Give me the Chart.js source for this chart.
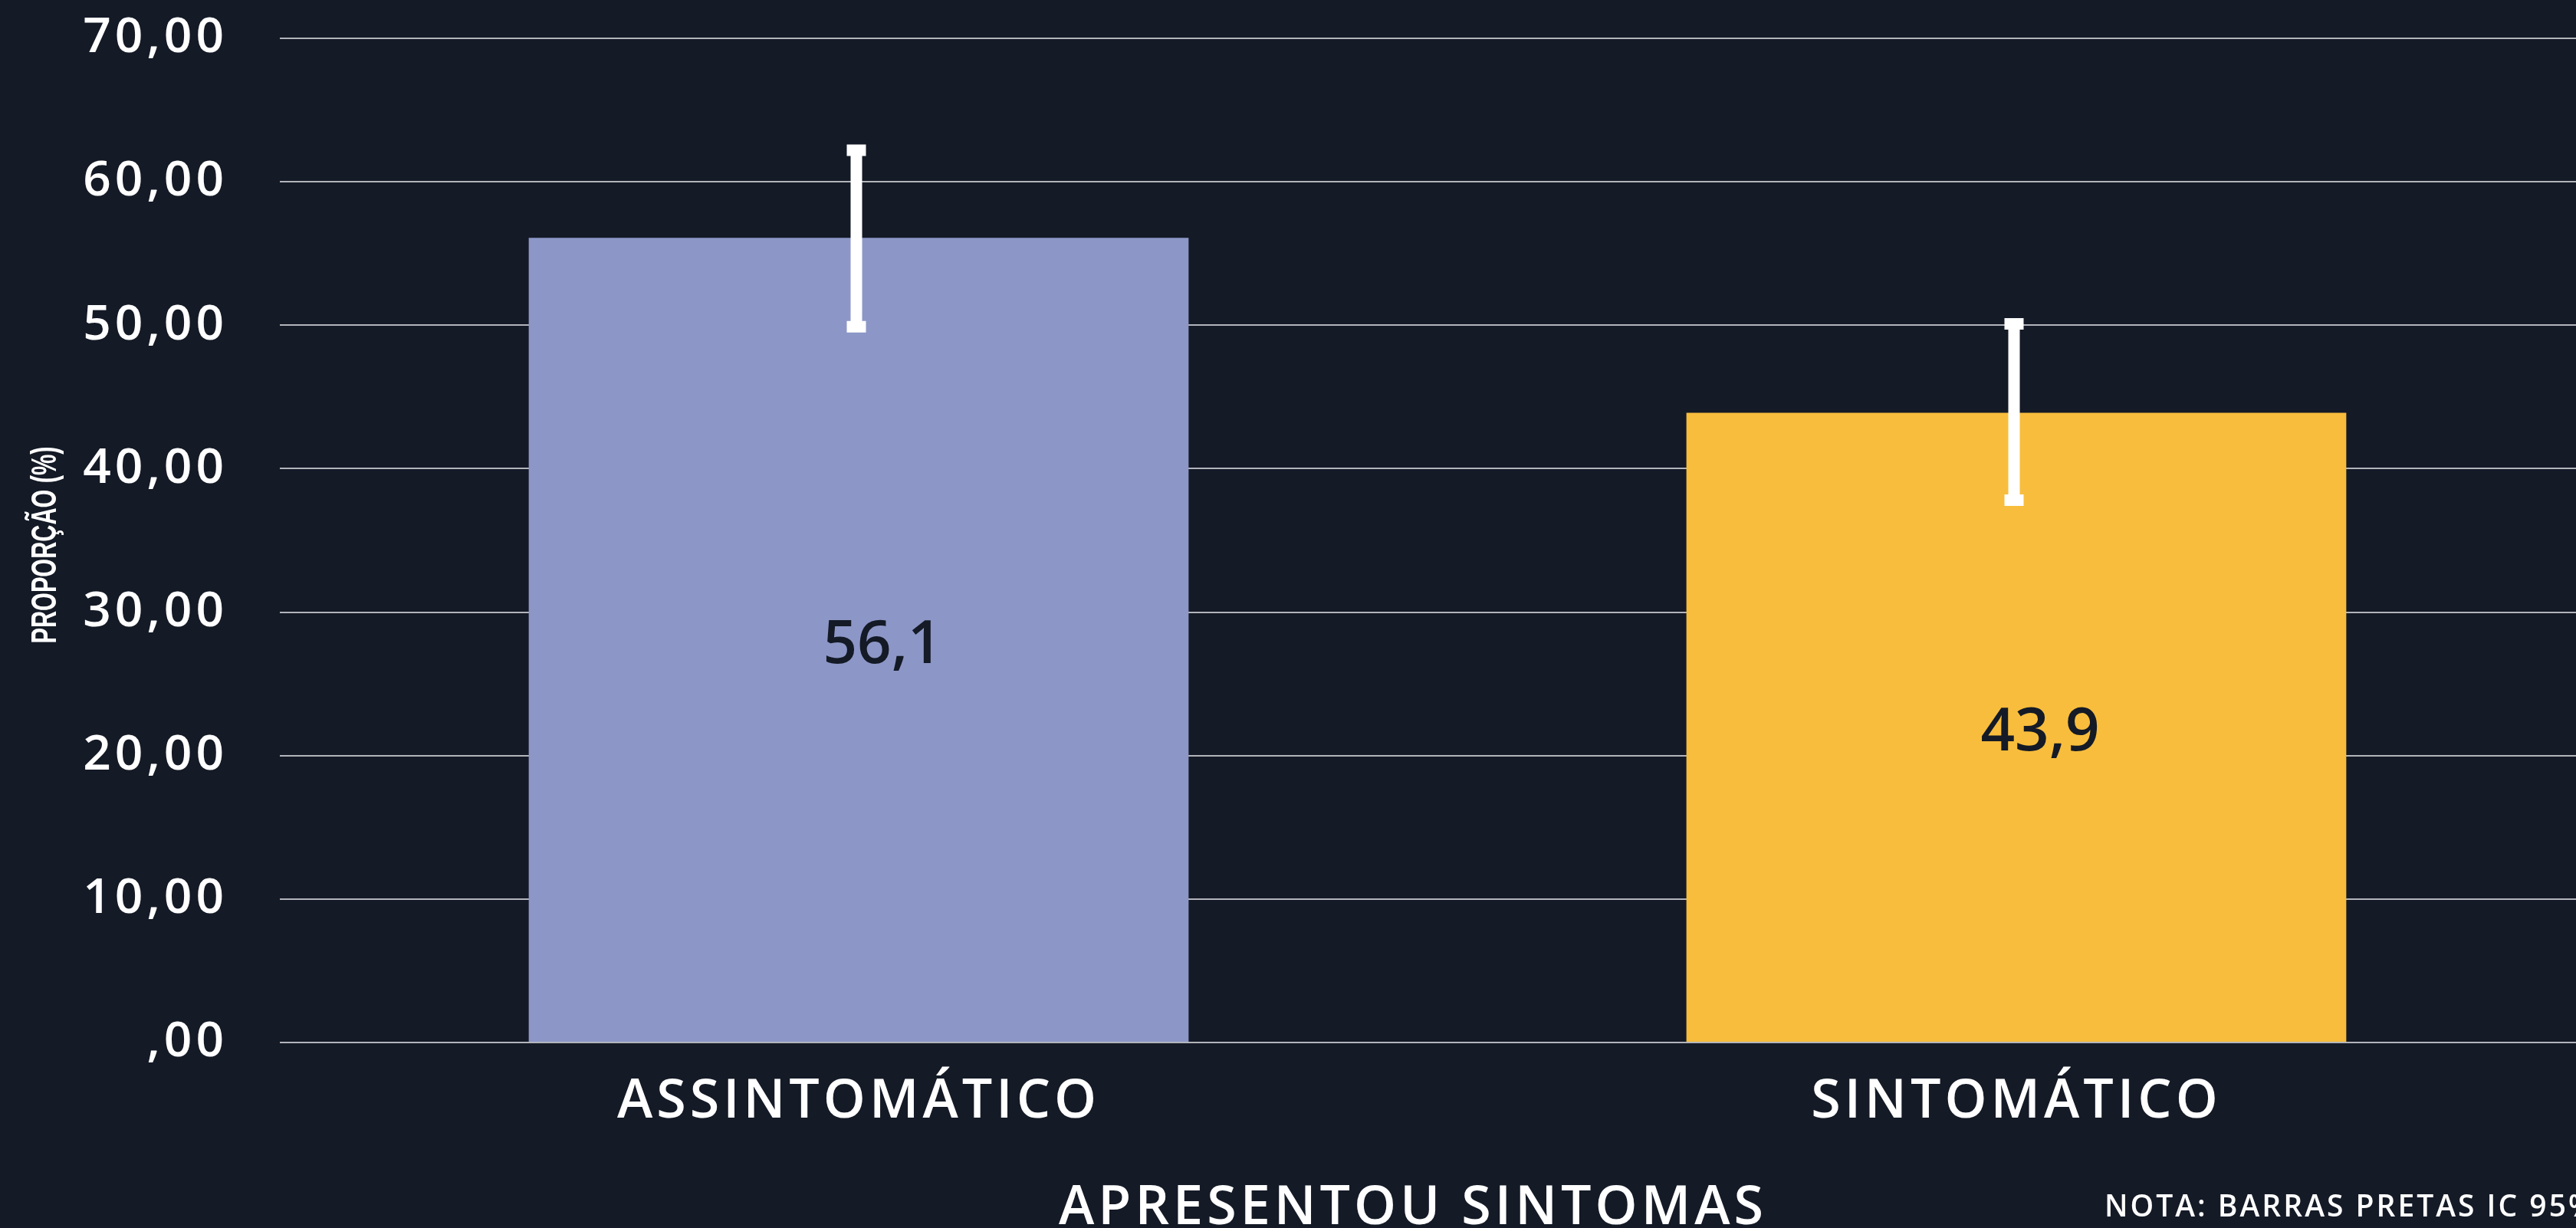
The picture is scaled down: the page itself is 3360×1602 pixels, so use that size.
<!DOCTYPE html>
<html>
<head>
<meta charset="utf-8">
<script src="https://cdn.jsdelivr.net/npm/chart.js@4.4.0/dist/chart.umd.min.js"></script>
<style>
    html, body { margin: 0; padding: 0; background: #141a26; overflow: hidden; }
    #wrap { position: relative; width: 3385px; height: 1602px; }
</style>
</head>
<body>
<div id="wrap"><canvas id="chart"></canvas></div>
<script>
// Data
let categories = ["ASSINTOMÁTICO", "SINTOMÁTICO"];
let proportions = [56.1, 43.9];
let ciLower = [49.9, 37.8];
let ciUpper = [62.2, 50.1];
let barColors = ["#8c97c7", "#f8bd3c"];

let yTitle = "PROPORÇÃO (%)";
let xTitle = "APRESENTOU SINTOMAS";
let note = "NOTA: BARRAS PRETAS IC 95%";

let mainFont = "'Open Sans', 'DejaVu Sans', sans-serif";

// wider letter spacing, the original font is a wide geometric one
let spacingPlugin = {
    id: "spacing",
    beforeInit(chart) {
        chart.ctx.letterSpacing = "5px";
    },
    beforeDraw(chart) {
        chart.ctx.letterSpacing = "5px";
    }
};

// Error bars, value labels and extra texts
let extrasPlugin = {
    id: "extras",
    afterDatasetsDraw(chart) {
        let ctx = chart.ctx;
        let meta = chart.getDatasetMeta(0);
        let y = chart.scales.y;
        ctx.save();

        // value labels in the middle of each bar
        ctx.letterSpacing = "0px";
        ctx.fillStyle = "#141a26";
        ctx.font = "600 78px " + mainFont;
        ctx.textAlign = "center";
        ctx.textBaseline = "middle";
        meta.data.forEach((bar, i) => {
            let midY = (bar.y + bar.base) / 2;
            ctx.fillText(proportions[i].toFixed(1).replace(".", ","), bar.x + 31, midY + 8);
        });

        // confidence intervals
        ctx.strokeStyle = "#ffffff";
        ctx.lineCap = "butt";
        meta.data.forEach((bar, i) => {
            let x = bar.x - 3;
            let top = y.getPixelForValue(ciUpper[i]);
            let bottom = y.getPixelForValue(ciLower[i]);
            ctx.lineWidth = 15;
            ctx.beginPath();
            ctx.moveTo(x, top);
            ctx.lineTo(x, bottom);
            ctx.stroke();
            ctx.beginPath();
            ctx.moveTo(x - 12.5, top);
            ctx.lineTo(x + 12.5, top);
            ctx.moveTo(x - 12.5, bottom);
            ctx.lineTo(x + 12.5, bottom);
            ctx.stroke();
        });
        ctx.restore();
    },
    afterDraw(chart) {
        let ctx = chart.ctx;
        let area = chart.chartArea;
        ctx.save();
        ctx.fillStyle = "#ffffff";
        ctx.textBaseline = "alphabetic";

        // x axis title
        ctx.letterSpacing = "5px";
        ctx.font = "600 70px " + mainFont;
        ctx.textAlign = "center";
        ctx.fillText(xTitle, (area.left + area.right) / 2 - 32, 1597);

        // note
        ctx.letterSpacing = "3px";
        ctx.font = "600 39px " + mainFont;
        ctx.textAlign = "left";
        ctx.fillText(note, 2745, 1587);

        // y axis title, condensed
        ctx.letterSpacing = "0px";
        ctx.font = "bold 46px 'Liberation Sans', sans-serif";
        ctx.textAlign = "center";
        ctx.textBaseline = "middle";
        let w = ctx.measureText(yTitle).width;
        ctx.translate(60, 711);
        ctx.rotate(-Math.PI / 2);
        ctx.scale(257 / w, 1);
        ctx.fillText(yTitle, 0, 0);
        ctx.restore();
    }
};

let ctx = document.getElementById("chart").getContext("2d");
let chart = new Chart(ctx, {
    type: "bar",
    data: {
        labels: categories,
        datasets: [
            {
                data: proportions,
                backgroundColor: barColors,
                borderWidth: 0,
                categoryPercentage: 1,
                barPercentage: 0.57,
            },
        ],
    },
    options: {
        responsive: true,
        maintainAspectRatio: false,
        animation: false,
        events: [],
        layout: { padding: { top: 50, right: 0, bottom: 0, left: 0 } },
        plugins: {
            legend: { display: false },
            tooltip: { enabled: false },
        },
        scales: {
            x: {
                grid: { display: false, drawTicks: false },
                border: { display: false },
                ticks: {
                    color: "#ffffff",
                    padding: 36,
                    font: { family: mainFont, size: 70, weight: "600" },
                },
                afterFit(scale) {
                    scale.height = 242;
                },
            },
            y: {
                min: 0,
                max: 70,
                grid: { color: "#b3b5ba", lineWidth: 2, drawTicks: false },
                border: { display: false },
                ticks: {
                    stepSize: 10,
                    color: "#ffffff",
                    padding: 68,
                    font: { family: mainFont, size: 64, weight: "600" },
                    callback: (v) => (v === 0 ? ",00" : v.toFixed(2).replace(".", ",")),
                },
                afterFit(scale) {
                    scale.width = 365;
                    scale.paddingTop = 0;
                    scale.paddingBottom = 0;
                },
            },
        },
    },
    plugins: [spacingPlugin, extrasPlugin],
});
</script>
</body>
</html>
